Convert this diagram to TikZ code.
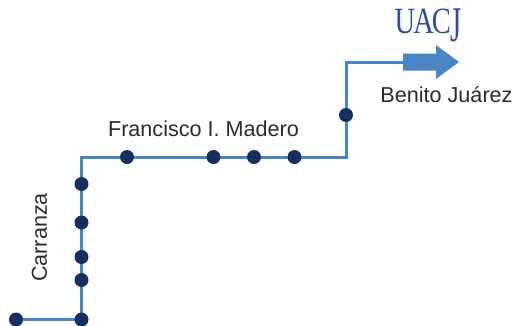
\documentclass[tikz,border=0pt]{standalone}
\usepackage{fontspec}
\usepackage{graphicx}
\setmainfont{Liberation Sans}
\newfontfamily\logofont[LetterSpace=-7]{Liberation Serif}
\definecolor{routeblue}{HTML}{4A86C5}
\definecolor{stopnavy}{HTML}{14305F}
\definecolor{labelgrey}{HTML}{2B2B2B}
\definecolor{logoblue}{HTML}{2D4CA2}
\tikzset{
  stop/.style={circle,fill=stopnavy,inner sep=0pt,minimum size=14pt},
  route/.style={draw=routeblue,line width=3pt},
  label text/.style={text=labelgrey,inner sep=0pt,font=\fontsize{21.6}{24}\selectfont}
}
\begin{document}
\begin{tikzpicture}[x=1pt,y=-1pt]
\useasboundingbox (0,0) rectangle (520,325);
\coordinate (p1) at (16,319.5);
\coordinate (p2) at (81.5,319.5);
\coordinate (c1) at (81.5,157);
\coordinate (c2) at (346,157);
\coordinate (c3) at (346,62);
\coordinate (a0) at (403,62);
\path[fill=routeblue] (403,53.5) -- (436,53.5) -- (436,45) -- (459,62) -- (436,79) -- (436,70.5) -- (403,70.5) -- cycle;
\draw[route,line join=miter] (p1) -- (p2) -- (c1) -- (c2) -- (c3) -- (a0);
\node[stop] (s1) at (p1) {};
\node[stop] (s2) at (p2) {};
\node[stop] (s3) at (81.5,280) {};
\node[stop] (s4) at (81.5,257) {};
\node[stop] (s5) at (81.5,222.5) {};
\node[stop] (s6) at (81.5,184) {};
\node[stop] (s7) at (127,157) {};
\node[stop] (s8) at (213.5,157) {};
\node[stop] (s9) at (254,157) {};
\node[stop] (s10) at (294.5,157) {};
\node[stop] (s11) at (346,115) {};
\node[label text] (madero) at (203.5,129) {Francisco I. Madero};
\node[label text] (juarez) at (446.5,95) {Benito Juárez};
\node[label text,rotate=90] (carranza) at (39.5,237.5) {Carranza};
\node[anchor=base west,inner sep=0pt,text=logoblue,xscale=0.77,font=\logofont\fontsize{37}{37}\selectfont] (logo) at (394.5,33) {UAC\raisebox{-8.5pt}{\scalebox{1}[1.35]{J}}};
\end{tikzpicture}
\end{document}
